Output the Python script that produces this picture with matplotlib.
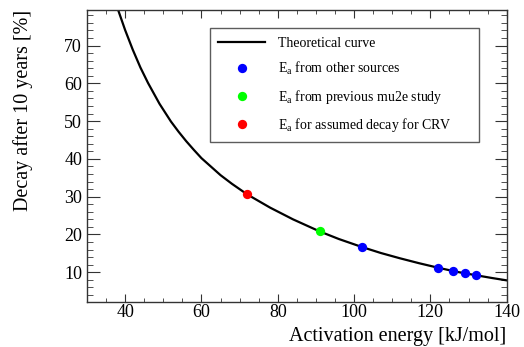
import matplotlib
matplotlib.use("Agg")
import matplotlib.pyplot as plt
from matplotlib.ticker import MultipleLocator

plt.rcParams['font.family'] = ['Liberation Serif', 'DejaVu Serif']
plt.rcParams['mathtext.fontset'] = 'custom'
plt.rcParams['mathtext.rm'] = 'Liberation Serif'

# theoretical curve
curve_E = [37, 38, 40, 42, 44, 46, 49, 52, 54, 56, 58, 60, 62, 65, 68, 72, 78, 84, 91, 96,
           102, 107, 112, 117, 122, 127, 132, 136, 140]
curve_D = [83.0, 79.9, 74.1, 68.9, 64.2, 60.1, 54.6, 49.9, 47.2, 44.7, 42.4, 40.2, 38.4,
           35.7, 33.4, 30.6, 27.1, 24.0, 20.8, 18.8, 16.7, 15.1, 13.7, 12.4, 11.2, 10.1,
           9.2, 8.5, 7.85]

# measured activation energies
other_E = [102, 122, 126, 129, 132]
other_D = [16.7, 11.2, 10.4, 9.8, 9.2]
mu2e_E = [91]
mu2e_D = [20.8]
crv_E = [72]
crv_D = [30.6]

fig = plt.figure(figsize=(5.24, 3.47), dpi=100)
ax = fig.add_axes([0.166, 0.1305, 0.801, 0.8405])

ax.plot(curve_E, curve_D, color='black', lw=1.6, label='Theoretical curve', zorder=2)
ax.plot(other_E, other_D, 'o', color='#0000ff', ms=6.7, mec='none',
        label='E$_{\\rm a}$ from other sources', zorder=3)
ax.plot(mu2e_E, mu2e_D, 'o', color='#00ff00', ms=6.7, mec='none',
        label='E$_{\\rm a}$ from previous mu2e study', zorder=3)
ax.plot(crv_E, crv_D, 'o', color='#ff0000', ms=6.7, mec='none',
        label='E$_{\\rm a}$ for assumed decay for CRV', zorder=3)

ax.set_xlim(30, 140)
ax.set_ylim(2.2, 79.4)
ax.xaxis.set_major_locator(MultipleLocator(20))
ax.xaxis.set_minor_locator(MultipleLocator(5))
ax.yaxis.set_major_locator(MultipleLocator(10))
ax.yaxis.set_minor_locator(MultipleLocator(2))

ax.tick_params(axis='both', which='both', direction='in', top=True, right=True,
               labelsize=13, color='#333333')
ax.tick_params(axis='x', which='major', length=5.5, pad=2)
ax.tick_params(axis='x', which='minor', length=2.9)
ax.tick_params(axis='y', which='major', length=9, pad=3.5)
ax.tick_params(axis='y', which='minor', length=4)
for sp in ax.spines.values():
    sp.set_color('#333333')
    sp.set_linewidth(1.0)

ax.set_xlabel('Activation energy [kJ/mol]', fontsize=14.5, loc='right')
ax.xaxis.set_label_coords(1.0, -0.085)
ax.set_ylabel('Decay after 10 years [%]', fontsize=14.5, loc='top')
ax.yaxis.set_label_coords(-0.128, 1.0)

leg = ax.legend(loc='upper left', bbox_to_anchor=(0.293, 0.937, 0.64, 0.0), mode='expand',
                fontsize=10, frameon=True, fancybox=False, handlelength=3.38,
                handletextpad=0.9, labelspacing=0.74, borderpad=0.6, borderaxespad=0)
leg.get_frame().set_edgecolor('#333333')
leg.get_frame().set_linewidth(1.0)

fig.savefig('out.png', dpi=100)
